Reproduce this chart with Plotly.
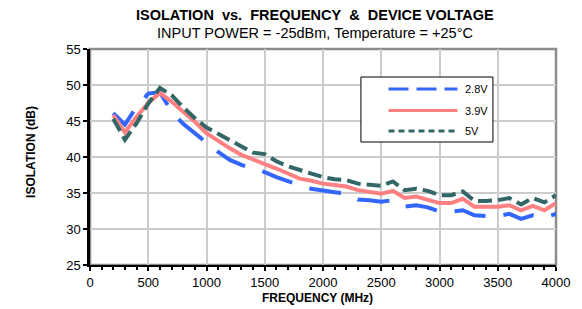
import plotly.graph_objects as go

freq = list(range(200, 4001, 100))

v28 = [46.1, 44.5, 47.0, 48.8, 49.0, 46.3, 44.6, 43.3, 42.0, 40.7,
       39.6, 38.9, 38.4, 37.9, 37.2, 36.6, 36.1, 35.6, 35.3, 35.1,
       34.9, 34.1, 34.0, 33.8, 34.0, 33.1, 33.3, 33.0, 32.4, 32.4,
       32.6, 31.9, 31.8, 31.8, 32.1, 31.4, 31.9, 31.6, 32.1]

v39 = [45.8, 43.4, 45.6, 47.5, 48.9, 47.7, 46.3, 44.9, 43.3, 42.2,
       41.2, 40.3, 39.6, 39.0, 38.4, 37.7, 37.0, 36.7, 36.3, 36.1,
       35.9, 35.4, 35.2, 34.9, 35.3, 34.3, 34.5, 34.0, 33.6, 33.6,
       34.2, 33.1, 33.1, 33.1, 33.3, 32.6, 33.2, 32.6, 33.6]

v50 = [45.3, 42.4, 44.7, 47.4, 49.6, 48.6, 46.9, 45.4, 44.1, 43.2,
       42.3, 41.4, 40.6, 40.4, 39.4, 38.7, 38.2, 37.8, 37.2, 36.9,
       36.8, 36.3, 36.1, 36.0, 36.6, 35.4, 35.6, 35.3, 34.7, 34.7,
       35.2, 33.9, 33.9, 34.0, 34.3, 33.4, 34.3, 33.7, 34.7]

names = ["2.8V", "3.9V", "5V"]
colors = ["#3366ff", "#ff8080", "#336666"]
dashes = ["32px,18px", "solid", "14px,6px"]
legend_dashes = ["20px,8px", "solid", "6px,4px"]
series = [v28, v39, v50]

FONT = "Liberation Sans, Arial, sans-serif"

fig = go.Figure()
for name, ys, c, d in zip(names, series, colors, dashes):
    fig.add_trace(go.Scatter(x=freq, y=ys, mode="lines", name=name,
                             line=dict(color=c, width=4, dash=d),
                             showlegend=False))

# plot frame
fig.add_shape(type="rect", xref="paper", yref="paper", x0=0, x1=1, y0=0, y1=1,
              line=dict(color="#8c8c8c", width=2.5), layer="below")


def px_x(px):
    return (px - 90) / 473.0


def px_y(py):
    return (265 - py) / 216.0


# legend box
fig.add_shape(type="rect", xref="paper", yref="paper",
              x0=px_x(365), x1=px_x(499), y0=px_y(142), y1=px_y(77),
              line=dict(color="black", width=1), fillcolor="white", layer="above")
rows = [89, 110.5, 131]
for name, c, d, ry in zip(names, colors, legend_dashes, rows):
    fig.add_shape(type="line", xref="paper", yref="paper",
                  x0=px_x(393), x1=px_x(463), y0=px_y(ry), y1=px_y(ry),
                  line=dict(color=c, width=3, dash=d), layer="above")
    fig.add_annotation(xref="paper", yref="paper", x=px_x(469), y=px_y(ry),
                       text=name, showarrow=False, xanchor="left", yanchor="middle",
                       font=dict(family=FONT, size=11, color="black"))

# titles
fig.add_annotation(xref="paper", yref="paper", x=px_x(318), y=px_y(15),
                   text="<b>ISOLATION\u00a0 vs.\u00a0 FREQUENCY\u00a0 &amp;\u00a0 DEVICE VOLTAGE</b>",
                   showarrow=False, xanchor="center", yanchor="middle",
                   font=dict(family=FONT, size=14.5, color="black"))
fig.add_annotation(xref="paper", yref="paper", x=px_x(318), y=px_y(33),
                   text="INPUT POWER = -25dBm, Temperature = +25°C",
                   showarrow=False, xanchor="center", yanchor="middle",
                   font=dict(family=FONT, size=14.5, color="black"))
fig.add_annotation(xref="paper", yref="paper", x=px_x(30), y=px_y(152),
                   text="<b>ISOLATION (dB)</b>", textangle=-90,
                   showarrow=False, xanchor="center", yanchor="middle",
                   font=dict(family=FONT, size=12, color="black"))
fig.add_annotation(xref="paper", yref="paper", x=px_x(321), y=px_y(298),
                   text="<b>FREQUENCY (MHz)</b>",
                   showarrow=False, xanchor="center", yanchor="middle",
                   font=dict(family=FONT, size=12, color="black"))

fig.update_layout(
    width=582, height=309, autosize=False,
    margin=dict(l=90, r=19, t=49, b=44),
    paper_bgcolor="white", plot_bgcolor="white",
    font=dict(family=FONT, size=13, color="black"),
)
fig.update_xaxes(range=[0, 4000], dtick=500, tick0=0,
                 showgrid=True, gridcolor="#cccccc", gridwidth=1.5,
                 showline=True, linecolor="black", linewidth=2,
                 ticks="outside", ticklen=4, tickwidth=1.5, tickcolor="black",
                 minor=dict(dtick=100, ticks="outside", ticklen=3, tickcolor="black", showgrid=False),
                 zeroline=False, tickfont=dict(size=13))
fig.update_yaxes(range=[25, 55], dtick=5, tick0=25,
                 showgrid=True, gridcolor="#cccccc", gridwidth=1.5,
                 showline=True, linecolor="black", linewidth=2.5,
                 ticks="outside", ticklen=4, tickwidth=1.5, tickcolor="black",
                 zeroline=False, tickfont=dict(size=13))

fig.write_html("out.html",
               config={"displayModeBar": False, "responsive": False},
               post_script=("document.documentElement.style.overflow='hidden';"
                            "document.body.style.overflow='hidden';"
                            "document.body.style.margin='0';document.body.style.padding='0';"))
